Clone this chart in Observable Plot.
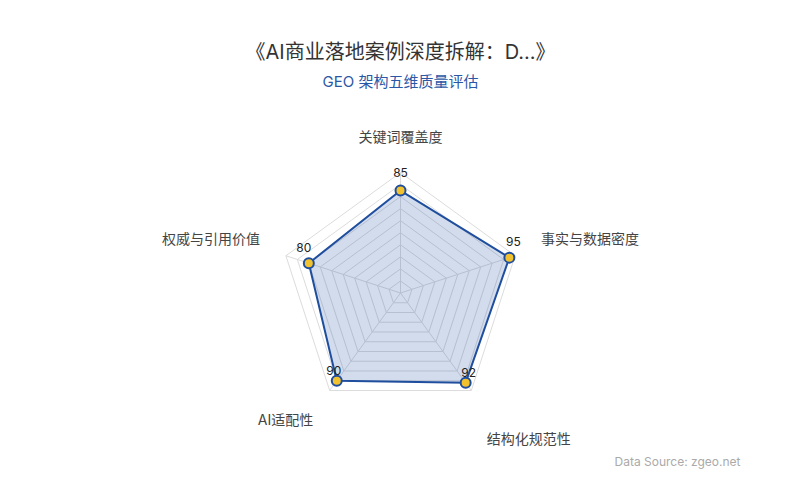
<!DOCTYPE html>
<html>
<head>
<meta charset="utf-8">
<script src="https://cdn.jsdelivr.net/npm/d3@7"></script>
<script src="https://cdn.jsdelivr.net/npm/@observablehq/plot@0.6"></script>
<style>
  html, body { margin: 0; padding: 0; background: #fff; }
  #chart { width: 800px; height: 500px; }
  svg { font-family: Inter, "Noto Sans CJK SC", "Noto Sans", sans-serif; }
</style>
</head>
<body>
<div id="chart"></div>
<script>
// ---- data ----
const title = "《AI商业落地案例深度拆解：D...》";
const subtitle = "GEO 架构五维质量评估";
const source = "Data Source: zgeo.net";
const dimensions = ["关键词覆盖度", "事实与数据密度", "结构化规范性", "AI适配性", "权威与引用价值"];
const scores = [85, 95, 92, 90, 80];
const ringLevels = [10, 20, 30, 40, 50, 60, 70, 80, 90, 100];
const maxValue = 100;

// ---- layout (pixels) ----
const W = 800, H = 500, CX = 400, CY = 292.5, R = 120.5;
const k = R / maxValue; // px per unit
const nameLayout = [
  {dx: 0, dy: -34.5, anchor: "middle"},
  {dx: 26, dy: -16, anchor: "start"},
  {dx: 15.5, dy: 49, anchor: "start"},
  {dx: -16.5, dy: 30.5, anchor: "end"},
  {dx: -26, dy: -16, anchor: "end"}
];
const valueLayout = [
  {dx: 0, dy: -17}, {dx: 4, dy: -15}, {dx: 3, dy: -10}, {dx: -3, dy: -10}, {dx: -5, dy: -15}
];

const n = dimensions.length;
const angle = i => Math.PI / 2 - i * 2 * Math.PI / n;
const px = (v, i) => v * Math.cos(angle(i));
const py = (v, i) => v * Math.sin(angle(i));

const rings = ringLevels.flatMap(level =>
  d3.range(n + 1).map(j => ({level, x: px(level, j % n), y: py(level, j % n)})));
const spokes = dimensions.map((d, i) => ({x: px(maxValue, i), y: py(maxValue, i)}));
const pts = dimensions.map((d, i) => ({name: d, value: scores[i], x: px(scores[i], i), y: py(scores[i], i)}));

const blue = "#1f4e9e";
const marks = [
  Plot.line(rings, {x: "x", y: "y", z: "level", stroke: "#dcdcdc", strokeWidth: 1}),
  Plot.link(spokes, {x1: 0, y1: 0, x2: "x", y2: "y", stroke: "#dcdcdc", strokeWidth: 1}),
  Plot.area(pts, {x1: "x", y1: "y", x2: 0, y2: 0, curve: "linear-closed", fill: blue, fillOpacity: 0.2}),
  Plot.line(pts, {x: "x", y: "y", curve: "linear-closed", stroke: blue, strokeWidth: 2}),
  Plot.dot(pts, {x: "x", y: "y", r: 5, fill: "#f2c12e", stroke: blue, strokeWidth: 2}),
];
pts.forEach((p, i) => {
  marks.push(Plot.text([p], {x: "x", y: "y", text: d => String(d.value), dx: valueLayout[i].dx, dy: valueLayout[i].dy,
    fontSize: 12, fill: "#222", textAnchor: "middle"}));
  marks.push(Plot.text([spokes[i]], {x: "x", y: "y", text: () => dimensions[i], dx: nameLayout[i].dx, dy: nameLayout[i].dy,
    fontSize: 14, fill: "#444", textAnchor: nameLayout[i].anchor}));
});
marks.push(
  Plot.text([title], {frameAnchor: "top", lineAnchor: "middle", dy: 52, fontSize: 20, fill: "#333", text: d => d}),
  Plot.text([subtitle], {frameAnchor: "top", lineAnchor: "middle", dy: 81.5, fontSize: 15, fill: "#2a58a6", text: d => d}),
  Plot.text([source], {frameAnchor: "top-right", lineAnchor: "middle", dx: -60, dy: 462, fontSize: 12, fill: "#aaaaaa", textAnchor: "end", text: d => d})
);

const chart = Plot.plot({
  width: W, height: H,
  margin: 0,
  x: {domain: [-CX / k, (W - CX) / k], range: [0, W], axis: null},
  y: {domain: [-(H - CY) / k, CY / k], range: [H, 0], axis: null},
  style: {background: "#fff", overflow: "visible"},
  marks
});
document.getElementById("chart").appendChild(chart);
</script>
</body>
</html>
